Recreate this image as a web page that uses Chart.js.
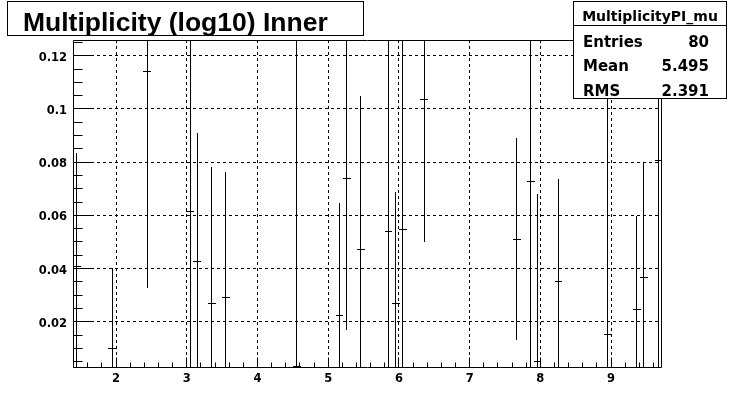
<!DOCTYPE html>
<html>
<head>
<meta charset="utf-8">
<script src="https://cdn.jsdelivr.net/npm/chart.js@4.4.1/dist/chart.umd.min.js"></script>
<style>
  html,body{margin:0;padding:0;background:#fff;}
  #wrap{position:relative;width:735px;height:408px;overflow:hidden;background:#fff;}
  #c{position:absolute;left:0;top:0;}
  .box{position:absolute;background:#fff;border:1px solid #000;box-sizing:border-box;z-index:2;}
  .txt{position:absolute;white-space:nowrap;line-height:1;z-index:3;color:#000;}
</style>
</head>
<body>
<div id="wrap">
  <canvas id="c" width="735" height="408"></canvas>
  <div class="box" style="left:7px;top:1px;width:357px;height:35px;"></div>
  <div class="txt" id="title" style="left:23px;top:7px;font:bold 26.5px 'Liberation Sans',Arial,sans-serif;"></div>
  <div class="box" style="left:573px;top:1px;width:154px;height:98px;"></div>
  <div class="box" style="left:573px;top:25px;width:154px;height:1px;border-width:1px 0 0 0;"></div>
  <div class="txt" id="statTitle" style="left:573px;width:154px;text-align:center;top:7.5px;font:bold 14px 'DejaVu Sans',sans-serif;"></div>
  <div id="statRows"></div>
</div>
<script>
// ---- data ----
const titleText = "Multiplicity (log10) Inner";
const statName = "MultiplicityPI_mu";
const statLabels = ["Entries", "Mean", "RMS"];
const statValues = ["80", "5.495", "2.391"];

const binCenters = [1.448, 1.948, 2.441, 3.047, 3.150, 3.355, 3.550, 4.556, 5.160, 5.263, 5.461, 5.853,
                    5.956, 6.055, 6.360, 7.667, 7.865, 7.960, 8.257, 8.955, 9.365, 9.460, 9.670];
const binValues  = [0.0409, 0.0100, 0.1141, 0.0616, 0.0428, 0.0269, 0.0293, 0.0031, 0.0224, 0.0739, 0.0472, 0.0540,
                    0.0269, 0.0547, 0.1036, 0.0510, 0.0728, 0.0051, 0.0352, 0.0154, 0.0247, 0.0367, 0.0805];
const binErrors  = [0.0426, 0.0301, 0.0815, 0.0800, 0.0480, 0.0513, 0.0470, 0.1300, 0.0421, 0.0570, 0.0577, 0.0800,
                    0.0420, 0.0800, 0.0535, 0.0380, 0.0800, 0.0630, 0.0383, 0.1200, 0.0352, 0.0435, 0.0900];

const xTickValues = [2, 3, 4, 5, 6, 7, 8, 9];
const xTickLabels = ["2", "3", "4", "5", "6", "7", "8", "9"];
const yTickValues = [0.02, 0.04, 0.06, 0.08, 0.10, 0.12];
const yTickLabels = ["0.02", "0.04", "0.06", "0.08", "0.1", "0.12"];

const xRange = [1.392, 9.72];
const yRange = [0.003, 0.1259];

// ---- text overlays ----
document.getElementById('title').textContent = titleText;
document.getElementById('statTitle').textContent = statName;
const rowsEl = document.getElementById('statRows');
const rowTops = [32.8, 57.3, 81.8];
statLabels.forEach((lab, i) => {
  const l = document.createElement('div');
  l.className = 'txt';
  l.style.cssText = `left:583px;top:${rowTops[i]}px;font:bold 15px 'DejaVu Sans',sans-serif;`;
  l.textContent = lab;
  rowsEl.appendChild(l);
  const v = document.createElement('div');
  v.className = 'txt';
  v.style.cssText = `right:26px;top:${rowTops[i]}px;text-align:right;font:bold 15px 'DejaVu Sans',sans-serif;`;
  v.textContent = statValues[i];
  rowsEl.appendChild(v);
});

// ---- ROOT-style frame, ticks, error bars ----
const al = p => Math.round(p - 0.5) + 0.5;
const halfBin = 0.055;
const rootStyle = {
  id: 'rootStyle',
  afterDatasetsDraw(chart) {
    const {ctx, chartArea: a, scales: {x, y}} = chart;
    ctx.save();
    ctx.strokeStyle = '#000';
    ctx.lineWidth = 1;
    ctx.setLineDash([]);
    // error bars + markers, clipped to frame
    ctx.save();
    ctx.beginPath();
    ctx.rect(a.left, a.top, a.right - a.left, a.bottom - a.top);
    ctx.clip();
    ctx.beginPath();
    binCenters.forEach((cx, i) => {
      const px = al(x.getPixelForValue(cx));
      const py = al(y.getPixelForValue(binValues[i]));
      const yTop = y.getPixelForValue(binValues[i] + binErrors[i]);
      const yBot = y.getPixelForValue(binValues[i] - binErrors[i]);
      ctx.moveTo(px, Math.round(yTop));
      ctx.lineTo(px, Math.round(yBot));
      const x0 = Math.round(x.getPixelForValue(cx - halfBin));
      const x1 = Math.round(x.getPixelForValue(cx + halfBin));
      ctx.moveTo(x0, py);
      ctx.lineTo(x1, py);
    });
    ctx.stroke();
    ctx.restore();

    // frame
    const L = al(a.left), R = al(a.right - 1), T = al(a.top), B = al(a.bottom);
    ctx.beginPath();
    ctx.rect(L, T, R - L, B - T);
    ctx.stroke();

    // y ticks
    ctx.beginPath();
    for (let k = 1; k <= 25; k++) {
      const v = k * 0.005;
      if (v <= yRange[0] || v >= yRange[1]) continue;
      const major = (k % 4 === 0);
      const py = al(y.getPixelForValue(v));
      ctx.moveTo(L, py);
      ctx.lineTo(L + (major ? 18 : 9), py);
    }
    // x ticks
    for (let k = 7; k <= 49; k++) {
      const v = k * 0.2;
      if (v <= xRange[0] || v >= xRange[1]) continue;
      const major = (k % 5 === 0);
      const px = al(x.getPixelForValue(v));
      ctx.moveTo(px, B);
      ctx.lineTo(px, B - (major ? 10 : 5));
    }
    ctx.stroke();
    ctx.restore();
  }
};

const tickFont = {family: "'DejaVu Sans', sans-serif", weight: 'bold', size: 11.5};

new Chart(document.getElementById('c'), {
  type: 'scatter',
  data: {
    datasets: [{
      label: statName,
      data: binCenters.map((cx, i) => ({x: cx, y: binValues[i]})),
      pointRadius: 0,
      showLine: false,
      borderColor: '#000'
    }]
  },
  options: {
    responsive: false,
    animation: false,
    devicePixelRatio: 1,
    events: [],
    layout: {padding: {left: 0, right: 73, top: 40, bottom: 0}},
    plugins: {legend: {display: false}, tooltip: {enabled: false}, title: {display: false}},
    scales: {
      x: {
        type: 'linear',
        min: xRange[0], max: xRange[1],
        afterBuildTicks: s => { s.ticks = xTickValues.map(v => ({value: v})); },
        afterFit: s => { s.height = 41; },
        ticks: {
          callback: v => xTickLabels[xTickValues.indexOf(v)],
          font: tickFont, color: '#000', padding: 5, maxRotation: 0, autoSkip: false
        },
        grid: {color: '#000', lineWidth: 1, drawTicks: false},
        border: {display: false, dash: [3, 3]}
      },
      y: {
        type: 'linear',
        min: yRange[0], max: yRange[1],
        afterBuildTicks: s => { s.ticks = yTickValues.map(v => ({value: v})); },
        afterFit: s => { s.width = 73; },
        ticks: {
          callback: v => yTickLabels[yTickValues.findIndex(t => Math.abs(t - v) < 1e-9)],
          font: tickFont, color: '#000', padding: 6, autoSkip: false, labelOffset: 2
        },
        grid: {color: '#000', lineWidth: 1, drawTicks: false},
        border: {display: false, dash: [3, 3]}
      }
    }
  },
  plugins: [rootStyle]
});
</script>
</body>
</html>
